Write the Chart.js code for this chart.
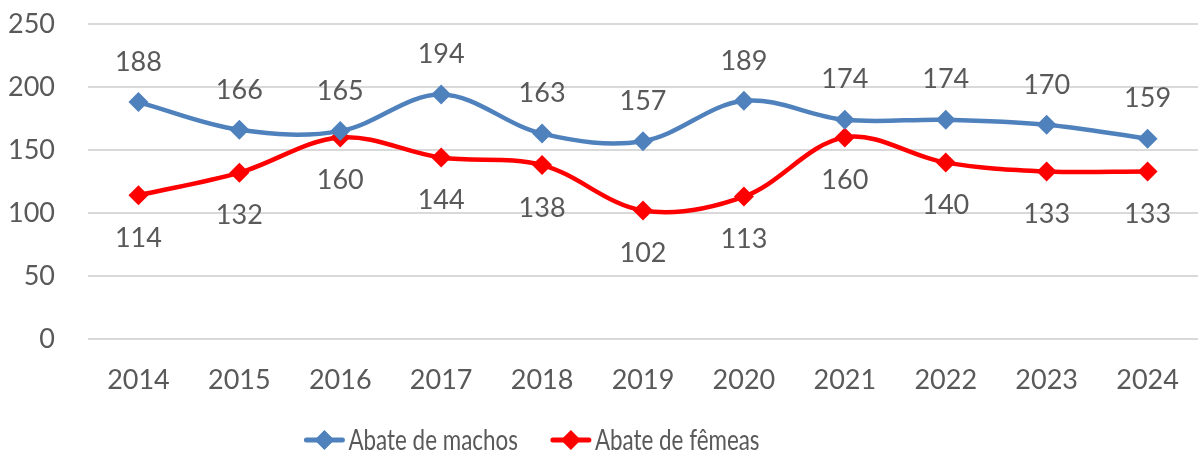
<!DOCTYPE html>
<html>
<head>
<meta charset="utf-8">
<script src="https://cdn.jsdelivr.net/npm/chart.js@4.4.0/dist/chart.umd.min.js"></script>
<style>
  html, body { margin: 0; padding: 0; background: #fff; }
  #wrap { width: 1198px; height: 457px; }
</style>
</head>
<body>
<div id="wrap"><canvas id="grafico"></canvas></div>
<script>
// Dados do gráfico
const anos = ['2014', '2015', '2016', '2017', '2018', '2019', '2020', '2021', '2022', '2023', '2024'];
const abateMachos = [188, 166, 165, 194, 163, 157, 189, 174, 174, 170, 159];
const abateFemeas = [114, 132, 160, 144, 138, 102, 113, 160, 140, 133, 133];
const ticksY = [0, 50, 100, 150, 200, 250];

const corMachos = '#4f81bd';
const corFemeas = '#ff0000';
const corTexto = '#595959';
const fonte = 'Lato, "Liberation Sans", sans-serif';

// Rótulos de dados: acima para machos, abaixo para fêmeas
const rotulosPlugin = {
    id: 'rotulos',
    afterDatasetsDraw(chart) {
        const ctx = chart.ctx;
        ctx.save();
        ctx.font = '27px ' + fonte;
        ctx.fillStyle = corTexto;
        ctx.textAlign = 'center';
        ctx.textBaseline = 'middle';
        chart.data.datasets.forEach((ds, i) => {
            const meta = chart.getDatasetMeta(i);
            const desloc = i === 0 ? -40 : 43;
            meta.data.forEach((pt, j) => {
                ctx.fillText(String(ds.data[j]), pt.x, pt.y + desloc);
            });
        });
        ctx.restore();
    }
};

// Legenda no estilo do Excel: linha com losango + texto
const legendaPlugin = {
    id: 'legendaExcel',
    afterDraw(chart) {
        const ctx = chart.ctx;
        const y = 440;
        const iconeW = 40, gapTexto = 4, gapItens = 33, escala = 0.8;
        ctx.save();
        ctx.font = '28px ' + fonte;
        const itens = chart.data.datasets.map(ds => ({
            texto: ds.label,
            cor: ds.borderColor,
            w: ctx.measureText(ds.label).width * escala
        }));
        const total = itens.reduce((s, it) => s + iconeW + gapTexto + it.w, 0) + gapItens * (itens.length - 1);
        let x = 532 - total / 2;
        itens.forEach(it => {
            ctx.strokeStyle = it.cor;
            ctx.lineWidth = 5;
            ctx.lineCap = 'round';
            ctx.beginPath();
            ctx.moveTo(x + 2, y);
            ctx.lineTo(x + iconeW - 2, y);
            ctx.stroke();
            ctx.fillStyle = it.cor;
            ctx.beginPath();
            const cx = x + iconeW / 2;
            ctx.moveTo(cx, y - 10);
            ctx.lineTo(cx + 10, y);
            ctx.lineTo(cx, y + 10);
            ctx.lineTo(cx - 10, y);
            ctx.closePath();
            ctx.fill();
            x += iconeW + gapTexto;
            ctx.save();
            ctx.translate(x, y);
            ctx.scale(escala, 1);
            ctx.fillStyle = corTexto;
            ctx.textAlign = 'left';
            ctx.textBaseline = 'middle';
            ctx.fillText(it.texto, 0, 1);
            ctx.restore();
            x += it.w + gapItens;
        });
        ctx.restore();
    }
};

Chart.defaults.font.family = fonte;
Chart.defaults.color = corTexto;

new Chart(document.getElementById('grafico'), {
    type: 'line',
    data: {
        labels: anos,
        datasets: [{
            label: 'Abate de machos',
            data: abateMachos,
            borderColor: corMachos,
            backgroundColor: corMachos,
            borderWidth: 4.5,
            tension: 0.35,
            pointStyle: 'rectRot',
            pointRadius: 10,
            pointHoverRadius: 10,
            pointBorderWidth: 0
        }, {
            label: 'Abate de fêmeas',
            data: abateFemeas,
            borderColor: corFemeas,
            backgroundColor: corFemeas,
            borderWidth: 4.5,
            tension: 0.35,
            pointStyle: 'rectRot',
            pointRadius: 10,
            pointHoverRadius: 10,
            pointBorderWidth: 0
        }]
    },
    options: {
        responsive: true,
        maintainAspectRatio: false,
        animation: false,
        layout: { autoPadding: false, padding: { top: 24, right: -5, bottom: 0, left: 0 } },
        scales: {
            x: {
                offset: true,
                afterFit(scale) {
                    scale.height = 118;
                    scale.paddingLeft = 0;
                    scale.paddingRight = 0;
                },
                grid: { display: false, drawTicks: false },
                border: { display: false },
                ticks: { font: { size: 27 }, padding: 25, maxRotation: 0, autoSkip: false }
            },
            y: {
                min: 0,
                max: 250,
                afterBuildTicks(scale) {
                    scale.ticks = ticksY.map(v => ({ value: v }));
                },
                afterFit(scale) {
                    scale.width = 88;
                    scale.paddingTop = 0;
                    scale.paddingBottom = 0;
                },
                grid: { color: '#d9d9d9', lineWidth: 2, drawTicks: false },
                border: { display: false },
                ticks: { font: { size: 27 }, padding: 33 }
            }
        },
        plugins: {
            legend: { display: false },
            tooltip: { enabled: false }
        }
    },
    plugins: [rotulosPlugin, legendaPlugin]
});
</script>
</body>
</html>
